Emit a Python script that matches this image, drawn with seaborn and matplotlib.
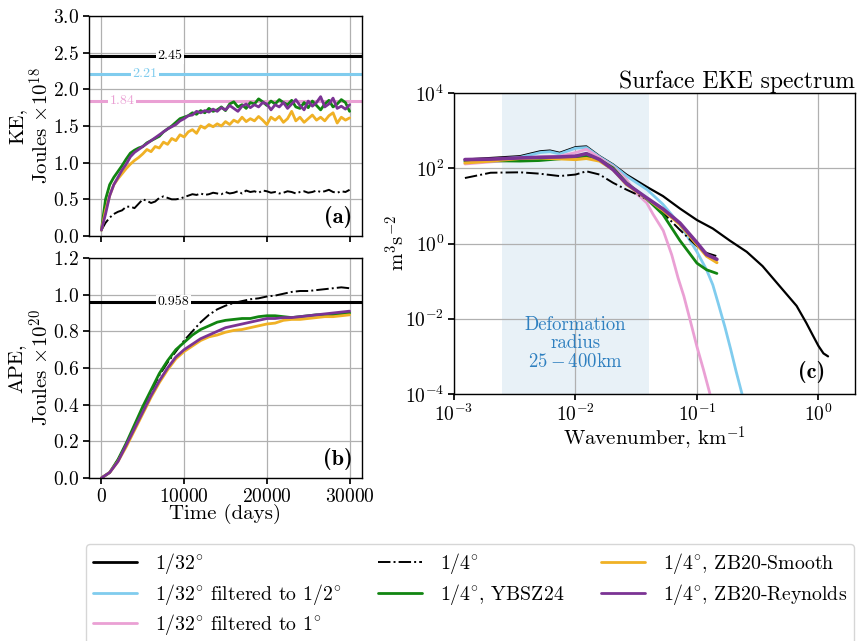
import matplotlib
matplotlib.use("Agg")
import numpy as np
import pandas as pd
import matplotlib.pyplot as plt
from matplotlib.lines import Line2D
import seaborn as sns

# ---------------- data ----------------
time_days = [0, 500, 1000, 1500, 2000, 2500, 3000, 3500, 4000, 4500, 5000, 5500, 6000, 6500,
             7000, 7500, 8000, 8500, 9000, 9500, 10000, 10500, 11000, 11500, 12000, 12500,
             13000, 13500, 14000, 14500, 15000, 15500, 16000, 16500, 17000, 17500, 18000,
             18500, 19000, 19500, 20000, 20500, 21000, 21500, 22000, 22500, 23000, 23500,
             24000, 24500, 25000, 25500, 26000, 26500, 27000, 27500, 28000, 28500, 29000,
             29500, 30000]

ke_qtr = [0.08, 0.18, 0.25, 0.30, 0.33, 0.35, 0.40, 0.40, 0.38, 0.44, 0.50, 0.48, 0.45, 0.47,
          0.52, 0.54, 0.52, 0.50, 0.50, 0.51, 0.53, 0.55, 0.57, 0.56, 0.58, 0.56, 0.57, 0.59,
          0.58, 0.57, 0.60, 0.58, 0.59, 0.61, 0.58, 0.62, 0.60, 0.61, 0.59, 0.62, 0.61, 0.59,
          0.60, 0.58, 0.59, 0.61, 0.60, 0.58, 0.60, 0.61, 0.59, 0.60, 0.62, 0.60, 0.61, 0.63,
          0.60, 0.59, 0.61, 0.60, 0.63]
ke_ybsz = [0.08, 0.50, 0.70, 0.80, 0.88, 0.96, 1.05, 1.13, 1.17, 1.20, 1.22, 1.27, 1.30, 1.33,
           1.36, 1.42, 1.46, 1.50, 1.55, 1.60, 1.62, 1.64, 1.68, 1.66, 1.71, 1.68, 1.74, 1.70,
           1.72, 1.76, 1.71, 1.80, 1.83, 1.76, 1.79, 1.74, 1.82, 1.80, 1.87, 1.83, 1.78, 1.84,
           1.80, 1.86, 1.82, 1.79, 1.85, 1.76, 1.74, 1.82, 1.75, 1.84, 1.78, 1.72, 1.80, 1.85,
           1.76, 1.80, 1.86, 1.82, 1.70]
ke_smooth = [0.08, 0.35, 0.55, 0.70, 0.78, 0.85, 0.92, 0.98, 1.03, 1.07, 1.12, 1.18, 1.15, 1.22,
             1.20, 1.28, 1.25, 1.33, 1.30, 1.38, 1.35, 1.42, 1.45, 1.40, 1.50, 1.47, 1.52, 1.49,
             1.53, 1.50, 1.56, 1.52, 1.58, 1.55, 1.62, 1.56, 1.60, 1.57, 1.63, 1.58, 1.52, 1.62,
             1.58, 1.63, 1.55, 1.60, 1.70, 1.57, 1.62, 1.55, 1.60, 1.65, 1.58, 1.62, 1.57, 1.64,
             1.68, 1.54, 1.62, 1.58, 1.61]
ke_reyn = [0.08, 0.30, 0.55, 0.70, 0.80, 0.90, 0.98, 1.08, 1.14, 1.18, 1.22, 1.26, 1.30, 1.34,
           1.38, 1.42, 1.46, 1.49, 1.52, 1.57, 1.60, 1.64, 1.65, 1.70, 1.68, 1.71, 1.69, 1.73,
           1.70, 1.75, 1.72, 1.78, 1.74, 1.70, 1.77, 1.80, 1.75, 1.79, 1.76, 1.82, 1.80, 1.72,
           1.79, 1.76, 1.82, 1.74, 1.80, 1.86, 1.78, 1.72, 1.84, 1.77, 1.82, 1.90, 1.76, 1.80,
           1.88, 1.74, 1.77, 1.73, 1.79]
ke_refs = [2.45, 2.21, 1.84]
ke_ref_label_t = [8300, 5300, 2500]

ape_time = [0, 1000, 2000, 3000, 4000, 5000, 6000, 7000, 8000, 9000, 10000, 11000, 12000,
            13000, 14000, 15000, 16000, 17000, 18000, 19000, 20000, 21000, 22000, 23000,
            24000, 25000, 26000, 27000, 28000, 29000, 30000]
ape_qtr = [0, 0.03, 0.10, 0.18, 0.28, 0.38, 0.47, 0.56, 0.63, 0.69, 0.75, 0.80, 0.85, 0.89,
           0.92, 0.94, 0.955, 0.965, 0.975, 0.98, 0.99, 0.995, 1.005, 1.015, 1.02, 1.02,
           1.025, 1.03, 1.035, 1.04, 1.035]
ape_ybsz = [0, 0.03, 0.10, 0.19, 0.29, 0.39, 0.48, 0.57, 0.64, 0.70, 0.74, 0.78, 0.81, 0.83,
            0.85, 0.86, 0.865, 0.87, 0.87, 0.88, 0.885, 0.885, 0.88, 0.875, 0.88, 0.885,
            0.89, 0.89, 0.89, 0.895, 0.90]
ape_smooth = [0, 0.03, 0.09, 0.17, 0.26, 0.35, 0.44, 0.52, 0.59, 0.65, 0.69, 0.72, 0.75, 0.77,
              0.78, 0.795, 0.805, 0.81, 0.82, 0.83, 0.84, 0.845, 0.86, 0.865, 0.865, 0.87,
              0.875, 0.88, 0.88, 0.885, 0.89]
ape_reyn = [0, 0.03, 0.09, 0.18, 0.27, 0.36, 0.45, 0.53, 0.60, 0.66, 0.70, 0.73, 0.76, 0.78,
            0.80, 0.82, 0.83, 0.84, 0.85, 0.86, 0.87, 0.87, 0.875, 0.875, 0.88, 0.885, 0.89,
            0.895, 0.90, 0.905, 0.91]
ape_ref = 0.958
ape_ref_label_t = 8700

k_hr = [0.00123, 0.00349, 0.00513, 0.00617, 0.00741, 0.01, 0.0123, 0.0158, 0.0204, 0.0263,
        0.0389, 0.0525, 0.0724, 0.1, 0.135, 0.186, 0.257, 0.347, 0.479, 0.661, 0.794, 0.9,
        1.0, 1.1, 1.20]
E_hr = [170, 209, 282, 295, 257, 363, 380, 209, 126, 67.6, 31.6, 18.2, 8.5, 4.2, 2.5, 1.2,
        0.6, 0.25, 0.074, 0.022, 0.0078, 0.0036, 0.0019, 0.0012, 0.0010]
k_f2 = [0.00123, 0.00349, 0.00513, 0.00617, 0.00741, 0.01, 0.0123, 0.0158, 0.0204, 0.0263,
        0.0389, 0.0525, 0.0724, 0.1, 0.12, 0.135, 0.15, 0.17, 0.19, 0.21, 0.235]
E_f2 = [150, 195, 262, 275, 240, 340, 355, 200, 120, 62, 27, 11, 3.2, 0.6, 0.2, 0.08, 0.025,
        0.006, 0.0015, 0.0004, 0.0001]
k_f1 = [0.00123, 0.00349, 0.00513, 0.00741, 0.01, 0.0123, 0.0158, 0.0204, 0.0263, 0.0315,
        0.0386, 0.0435, 0.0528, 0.062, 0.07, 0.078, 0.088, 0.1, 0.113, 0.128]
E_f1 = [130, 170, 200, 210, 260, 320, 190, 110, 50, 22, 12, 6, 2.2, 0.5, 0.12, 0.04, 0.009,
        0.0018, 0.00045, 0.0001]
k_lr = [0.00123, 0.002, 0.00349, 0.005, 0.0074, 0.01, 0.0123, 0.0158, 0.0204, 0.0263, 0.0389,
        0.0525, 0.0724, 0.1, 0.12, 0.146]
E_qtr = [55, 76, 78, 72, 62, 68, 83, 68, 41, 27, 15, 6.5, 2.3, 0.85, 0.56, 0.46]
E_ybsz = [155, 158, 155, 160, 178, 200, 209, 170, 102, 41, 15, 5.9, 1.2, 0.3, 0.2, 0.16]
E_smooth = [138, 155, 182, 188, 178, 170, 182, 155, 92, 37, 15.5, 7.6, 3.2, 0.93, 0.46, 0.31]
E_reyn = [170, 175, 188, 195, 200, 209, 245, 170, 92, 39, 16, 8.3, 3.5, 1.05, 0.51, 0.38]
deform_band = [1 / 400, 1 / 25]

labels = [r"$1/32^{\circ}$", r"$1/32^{\circ}$ filtered to $1/2^{\circ}$",
          r"$1/32^{\circ}$ filtered to $1^{\circ}$", r"$1/4^{\circ}$",
          r"$1/4^{\circ}$, YBSZ24", r"$1/4^{\circ}$, ZB20-Smooth",
          r"$1/4^{\circ}$, ZB20-Reynolds"]
colors = ["black", "#80ccee", "#eaa0d4", "black", "#118511", "#f0b125", "#7b3394"]
styles = ["-", "-", "-", "-.", "-", "-", "-"]

# ---------------- style ----------------
sns.set_theme(style="ticks")
plt.rcParams.update({
    "font.family": "serif",
    "font.serif": ["cmr10"],
    "mathtext.fontset": "cm",
    "axes.formatter.use_mathtext": True,
    "axes.unicode_minus": True,
    "axes.grid": True,
    "grid.color": "#b0b0b0",
    "grid.linewidth": 0.9,
    "axes.edgecolor": "black",
    "axes.linewidth": 1.0,
    "xtick.color": "black",
    "ytick.color": "black",
    "xtick.major.size": 4,
    "ytick.major.size": 4,
    "xtick.major.pad": 3,
    "ytick.major.pad": 3,
    "xtick.labelsize": 14,
    "ytick.labelsize": 14,
    "axes.labelsize": 15,
    "text.color": "black",
    "axes.labelcolor": "black",
})

W, H = 862, 641
fig = plt.figure(figsize=(W / 100, H / 100), dpi=100)


def rect(l, t, r, b):
    return [l / W, 1 - b / H, (r - l) / W, (b - t) / H]


ax_a = fig.add_axes(rect(89, 16, 362, 236))
ax_b = fig.add_axes(rect(89, 258, 362, 478), sharex=ax_a)
ax_c = fig.add_axes(rect(454, 93, 855, 394))

# ---- panel a ----
ke_df = pd.DataFrame({"t": time_days, "qtr": ke_qtr, "ybsz": ke_ybsz,
                      "smooth": ke_smooth, "reyn": ke_reyn})
for col, c, ls, lw in [("qtr", colors[3], "-.", 1.4), ("ybsz", colors[4], "-", 2.0),
                       ("smooth", colors[5], "-", 2.0), ("reyn", colors[6], "-", 2.0)]:
    sns.lineplot(data=ke_df, x="t", y=col, ax=ax_a, color=c, linestyle=ls, lw=lw,
                 estimator=None, sort=False)
for val, c, tx in zip(ke_refs, colors[:3], ke_ref_label_t):
    ax_a.axhline(val, color=c, lw=2.2, zorder=1.5)
    ax_a.text(tx, val, f"{val}", color=c, fontsize=10, ha="center", va="center",
              bbox=dict(facecolor="white", edgecolor="none", pad=1.0), zorder=3)
ax_a.set_ylim(0, 3)
ax_a.set_yticks([0, 0.5, 1.0, 1.5, 2.0, 2.5, 3.0])
ax_a.set_ylabel("KE,\n" + r"Joules $\times 10^{18}$", labelpad=0, linespacing=1.15)
ax_a.set_xlabel("")
ax_a.tick_params(axis="x", labelbottom=False)
ax_a.text(0.965, 0.035, "(a)", transform=ax_a.transAxes, ha="right",
          va="bottom", fontsize=16, family="cmb10")

# ---- panel b ----
ape_df = pd.DataFrame({"t": ape_time, "qtr": ape_qtr, "ybsz": ape_ybsz,
                       "smooth": ape_smooth, "reyn": ape_reyn})
for col, c, ls, lw in [("qtr", colors[3], "-.", 1.4), ("ybsz", colors[4], "-", 2.0),
                       ("smooth", colors[5], "-", 2.0), ("reyn", colors[6], "-", 2.0)]:
    sns.lineplot(data=ape_df, x="t", y=col, ax=ax_b, color=c, linestyle=ls, lw=lw,
                 estimator=None, sort=False)
ax_b.axhline(ape_ref, color="black", lw=2.2, zorder=1.5)
ax_b.text(ape_ref_label_t, ape_ref, f"{ape_ref}", color="black", fontsize=10,
          ha="center", va="center",
          bbox=dict(facecolor="white", edgecolor="none", pad=1.0), zorder=3)
ax_b.set_ylim(0, 1.2)
ax_b.set_yticks([0, 0.2, 0.4, 0.6, 0.8, 1.0, 1.2])
ax_b.set_xticks([0, 10000, 20000, 30000])
ax_b.set_xlim(-1500, 31500)
ax_b.set_xlabel("Time (days)", labelpad=-1)
ax_b.set_ylabel("APE,\n" + r"Joules $\times 10^{20}$", labelpad=0, linespacing=1.15)
ax_b.text(0.965, 0.035, "(b)", transform=ax_b.transAxes, ha="right",
          va="bottom", fontsize=16, family="cmb10")

# ---- panel c ----
ax_c.set_xscale("log")
ax_c.set_yscale("log")
ax_c.axvspan(deform_band[0], deform_band[1], color="#1f77b4", alpha=0.1, lw=0, zorder=0)
spectra = [(k_hr, E_hr, 1.6), (k_f2, E_f2, 2.0), (k_f1, E_f1, 2.0), (k_lr, E_qtr, 1.4),
           (k_lr, E_ybsz, 2.0), (k_lr, E_smooth, 2.2), (k_lr, E_reyn, 2.6)]
for (kk, ee, lw), c, ls in zip(spectra, colors, styles):
    d = pd.DataFrame({"k": kk, "E": ee})
    sns.lineplot(data=d, x="k", y="E", ax=ax_c, color=c, linestyle=ls, lw=lw,
                 estimator=None, sort=False)
ax_c.set_xlim(1e-3, 2.0)
ax_c.set_ylim(1e-4, 1e4)
ax_c.set_yticks([1e-4, 1e-2, 1e0, 1e2, 1e4])
ax_c.set_xticks([1e-3, 1e-2, 1e-1, 1e0])
ax_c.minorticks_off()
ax_c.set_xlabel(r"Wavenumber, km$^{-1}$", labelpad=-1)
ax_c.set_ylabel(r"m$^3$s$^{-2}$", labelpad=-3)
ax_c.set_title("Surface EKE spectrum", loc="right", fontsize=17, pad=2)
ax_c.text(0.01, 10 ** -2.65, "Deformation\nradius\n" + r"$25-400$km", color="#2f80c0",
          fontsize=13.5, ha="center", va="center", multialignment="center", linespacing=1.05)
ax_c.text(0.925, 0.035, "(c)", transform=ax_c.transAxes, ha="right",
          va="bottom", fontsize=16, family="cmb10")

# ---- legend ----
handles = [Line2D([], [], color=c, ls=ls, lw=2.0 if ls == "-" else 1.4)
           for c, ls in zip(colors, styles)]
fig.legend(handles, labels, ncol=3, loc="upper left", mode="expand",
           bbox_to_anchor=(86 / W, 0, 768 / W, 1 - 544 / H), fontsize=14.3,
           handlelength=2.2, handletextpad=0.9, columnspacing=2.0, labelspacing=0.28,
           borderpad=0.35, borderaxespad=0.0, frameon=True)

fig.savefig("out.png", dpi=100)
